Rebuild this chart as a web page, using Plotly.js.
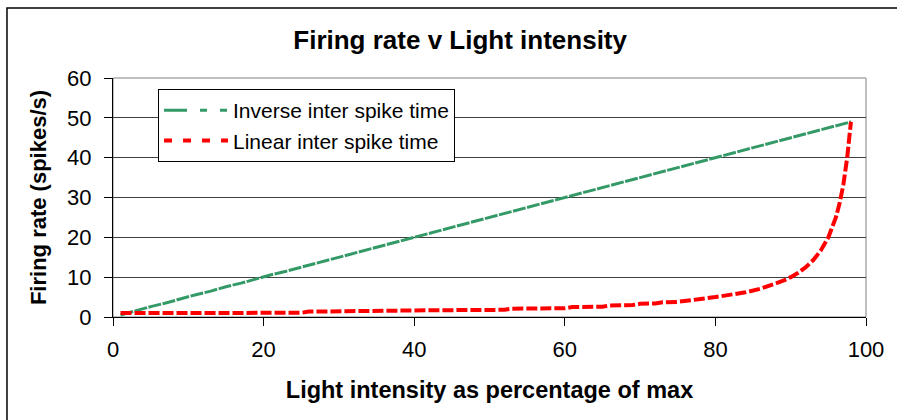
<!DOCTYPE html>
<html>
<head>
<meta charset="utf-8">
<script src="https://cdn.plot.ly/plotly-3.0.1.min.js"></script>
<style>html,body{margin:0;padding:0;background:#fff;}#chart{width:897px;height:420px;}</style>
</head>
<body>
<div id="chart"></div>
<script>
var chartTitle = "Firing rate v Light intensity";
var xTitle = "Light intensity as percentage of max";
var yTitle = "Firing rate (spikes/s)";
var seriesNames = ["Inverse inter spike time", "Linear inter spike time"];

var greenX = [1,3,5,7,9,11,13,15,17,19,21,23,25,27,29,31,33,35,37,39,41,43,45,47,49,51,53,55,57,59,61,63,65,67,69,71,73,75,77,79,81,83,85,87,89,91,93,95,97,98];
var greenY = [0.5,1.6,2.6,3.5,4.6,5.6,6.5,7.6,8.5,9.6,10.6,11.5,12.5,13.6,14.5,15.6,16.5,17.6,18.5,19.6,20.5,21.6,22.5,23.6,24.5,25.6,26.5,27.5,28.6,29.5,30.6,31.5,32.6,33.5,34.6,35.5,36.6,37.5,38.6,39.6,40.5,41.6,42.5,43.6,44.5,45.5,46.6,47.5,48.5,49.0];

var redX = [1,25,26,42,43,52,53,60,61,65,66,69,70,72,73,75,76,78,80,82,84,86,88,89,90,91,92,93,94,95,96,96.5,97,97.5,98];
var redY = [1.0,1.05,1.35,1.45,1.7,1.8,2.1,2.2,2.5,2.6,2.9,3.0,3.3,3.4,3.7,3.8,4.1,4.5,5.0,5.5,6.2,7.1,8.3,9.1,10.0,11.1,12.5,14.3,16.7,20.0,25.0,28.6,33.3,40.0,49.0];

var xTicks = [0,20,40,60,80,100];
var yTicks = [0,10,20,30,40,50,60];

var GREEN = "#339966", RED = "#ff0000";
var FONT = "Liberation Sans, Arial, sans-serif";

var traces = [
  {x: greenX, y: greenY, mode: "lines", line: {color: GREEN, width: 3, dash: "13px,1.5px"}, showlegend: false, hoverinfo: "skip"},
  {x: redX, y: redY, mode: "lines", line: {color: RED, width: 4, dash: "11px,3px"}, showlegend: false, hoverinfo: "skip"},
  {x: [null], y: [null], mode: "lines", name: seriesNames[0], legendgroup: "a", line: {color: GREEN, width: 3, dash: "23px,13px,7px,13px,7px,13px"}},
  {x: [null], y: [null], mode: "lines", name: seriesNames[1], legendgroup: "b", line: {color: RED, width: 4, dash: "8px,11px"}}
];

var layout = {
  width: 897, height: 420,
  margin: {l: 113, r: 31, t: 78, b: 103},
  paper_bgcolor: "#fff", plot_bgcolor: "#fff",
  font: {family: FONT, color: "#000", size: 21},
  title: {text: chartTitle, font: {family: FONT, size: 26, weight: "bold"}, x: 0.461, xref: "paper", xanchor: "center", y: 0.905, yref: "container", yanchor: "middle"},
  xaxis: {
    range: [0, 100], tickvals: xTicks, ticktext: xTicks.map(String),
    ticks: "outside", ticklen: 8, tickcolor: "#000", tickwidth: 1,
    showline: true, linecolor: "#000", linewidth: 1, showgrid: false, zeroline: false,
    tickfont: {size: 22, family: FONT}, ticklabelstandoff: 5,
    title: {text: xTitle, font: {size: 23.5, family: FONT, weight: "bold"}, standoff: 20},
    fixedrange: true
  },
  yaxis: {
    range: [0, 60], tickvals: yTicks, ticktext: yTicks.map(String),
    ticks: "outside", ticklen: 8, tickcolor: "#000", tickwidth: 1,
    showline: true, linecolor: "#000", linewidth: 1, showgrid: true, gridcolor: "#404040", gridwidth: 1, zeroline: false,
    tickfont: {size: 22, family: FONT}, ticklabelstandoff: 8,
    title: {text: yTitle, font: {size: 22, family: FONT, weight: "bold"}, standoff: 14},
    fixedrange: true
  },
  legend: {
    x: 0.0598, y: 0.954, xanchor: "left", yanchor: "top",
    bgcolor: "#fff", bordercolor: "#000", borderwidth: 1,
    font: {size: 21, family: FONT},
    itemwidth: 64, traceorder: "grouped", tracegroupgap: 0
  },
  shapes: [
    {type: "rect", xref: "paper", yref: "paper", x0: 0, x1: 1, y0: 0, y1: 1, line: {color: "#808080", width: 1}, layer: "below"},
    {type: "rect", xref: "paper", yref: "paper", x0: -0.1408, x1: 1.06, y0: -0.5, y1: 1.2929, line: {color: "#000", width: 1.5}, layer: "below"}
  ],
  showlegend: true
};

Plotly.newPlot("chart", traces, layout, {staticPlot: true, displayModeBar: false});
</script>
</body>
</html>
